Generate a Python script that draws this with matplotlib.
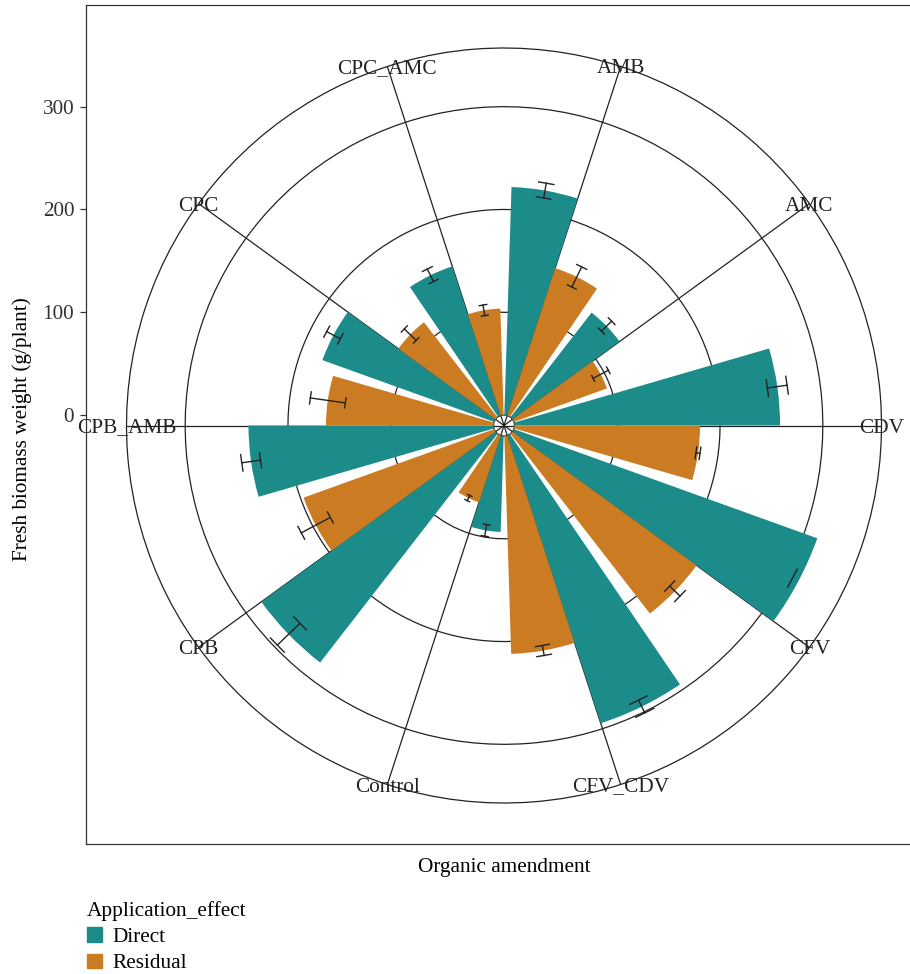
import numpy as np
import matplotlib.pyplot as plt
from matplotlib.patches import Patch

plt.rcParams['font.family'] = ['Liberation Serif', 'DejaVu Serif']

categories = ['AMB', 'AMC', 'CDV', 'CFV', 'CFV_CDV', 'Control', 'CPB', 'CPB_AMB', 'CPC', 'CPC_AMC']
direct = [221.9, 128.8, 258.4, 313.8, 294.4, 93.4, 281.7, 238.4, 177.6, 152.6]
direct_se = [7.3, 6.9, 9.7, 6.3, 6.9, 5.7, 15.3, 9.2, 7.5, 6.8]
residual = [150.8, 96.3, 180.5, 221.4, 212.1, 68.4, 197.1, 163.0, 116.9, 103.6]
residual_se = [10.9, 8.4, 2.0, 7.0, 4.9, 2.8, 16.0, 17.2, 8.0, 5.2]
r_ticks = [0, 100, 200, 300]

teal = '#1b8c8a'
orange = '#cb7c22'
line_col = '#222222'
fs = 15.3

# radial scale (values)
r_center = -10.2   # value at the pole
r_limit = 316.4    # scale limit, error bar tops beyond it are dropped
r_outer = 357.1    # outer ring
k = 1.0277         # px per unit

W, H = 910, 974
fig = plt.figure(figsize=(W / 100, H / 100), dpi=100)

# panel frame, radial axis on the left
cy = 425.5
frame = fig.add_axes([86 / W, 1 - 844 / H, 836 / W, 839 / H])
frame.set_xlim(0, 1)
frame.set_ylim(r_center - (844 - cy) / k, r_center + (cy - 5) / k)
frame.set_xticks([])
frame.set_yticks(r_ticks)
frame.tick_params(axis='y', length=4.5, width=0.9, color='#333333', pad=4, labelsize=fs, labelcolor='#333333')
for s in frame.spines.values():
    s.set_color('#333333')
    s.set_linewidth(0.9)
frame.set_xlabel('Organic amendment', fontsize=fs, labelpad=10)
frame.set_ylabel('Fresh biomass weight (g/plant)', fontsize=fs)
frame.yaxis.set_label_coords(-0.064, 0.494)

# polar panel
ax = fig.add_axes([126.5 / W, 1 - 803 / H, 755 / W, 755 / H], projection='polar')
ax.set_facecolor('none')
ax.set_theta_direction(-1)
ax.set_theta_offset(np.deg2rad(72))
ax.set_ylim(r_center, r_outer)

step = 2 * np.pi / len(categories)
pos = np.arange(len(categories)) * step
bw = 0.45 * step

ax.set_xticks(pos)
ax.set_xticklabels([])
ax.set_yticks(r_ticks)
ax.set_yticklabels([])
ax.grid(True, color=line_col, lw=0.9)
ax.set_axisbelow(True)
ax.spines['polar'].set_color(line_col)
ax.spines['polar'].set_linewidth(0.9)

ax.bar(pos - bw / 2, direct, width=bw, bottom=0, color=teal, zorder=2)
ax.bar(pos + bw / 2, residual, width=bw, bottom=0, color=orange, zorder=2)


def errbars(theta, vals, ses):
    hw = 0.05 * step
    for t, v, s in zip(theta, vals, ses):
        lo, hi = v - s, v + s
        if hi <= r_limit:
            ax.plot([t, t], [lo, hi], color=line_col, lw=1, zorder=3)
            ax.plot([t - hw, t + hw], [hi, hi], color=line_col, lw=1, zorder=3)
        ax.plot([t - hw, t + hw], [lo, lo], color=line_col, lw=1, zorder=3)


errbars(pos - bw / 2, direct, direct_se)
errbars(pos + bw / 2, residual, residual_se)

for p, name in zip(pos, categories):
    ax.text(p, r_outer, name, ha='center', va='center_baseline', fontsize=fs,
            color='#222222', clip_on=False, zorder=4)

handles = [Patch(color=teal), Patch(color=orange)]
fig.legend(handles, ['Direct', 'Residual'], title='Application_effect',
           loc='upper left', bbox_to_anchor=(87 / W, 1 - 901 / H), frameon=False,
           alignment='left', handlelength=0.7, handleheight=0.7, handletextpad=0.5,
           labelspacing=0.3, borderaxespad=0, borderpad=0, fontsize=fs, title_fontsize=fs)

fig.savefig('out.png', dpi=100)
